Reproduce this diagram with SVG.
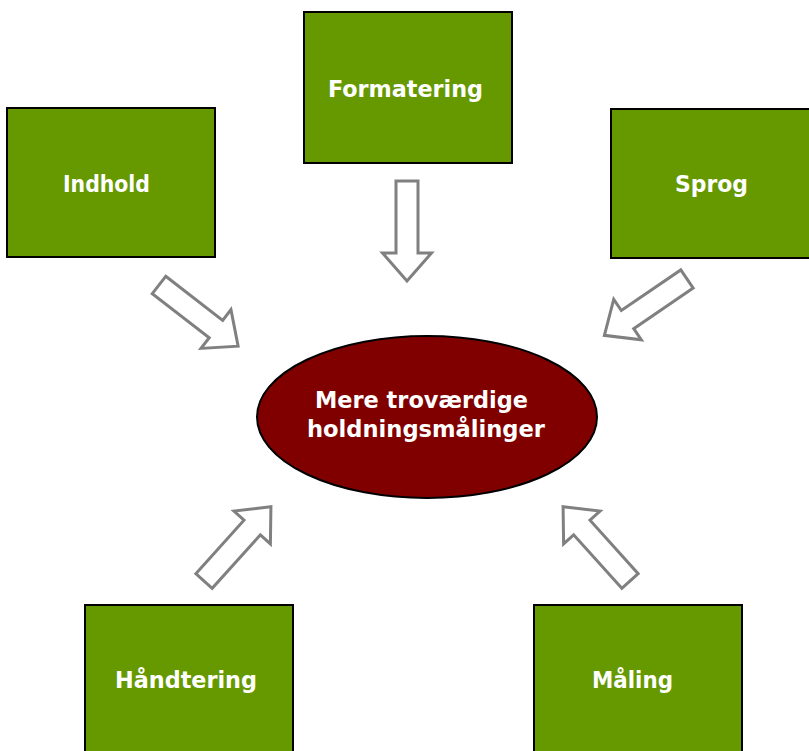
<svg xmlns="http://www.w3.org/2000/svg" width="809" height="751" viewBox="0 0 809 751">
<style>
.box{fill:#669900;stroke:#000;stroke-width:2}
.lbl{fill:#fff;font-family:"DejaVu Sans","Verdana",sans-serif;font-weight:bold;font-size:23px;text-anchor:middle}
.arr{fill:#fff;stroke:#808080;stroke-width:3;stroke-linejoin:miter}
</style>
<defs>
<path id="arrow" class="arr" d="M0,-11 H72 V-24.5 L100,0 L72,24.5 V11 H0 Z"/>
</defs>
<rect width="809" height="751" fill="#fff"/>
<g id="connectors">
<use href="#arrow" transform="translate(407,181) rotate(90)"/>
<use href="#arrow" transform="translate(159,285) rotate(37.7)"/>
<use href="#arrow" transform="translate(687,279) rotate(145.7)"/>
<use href="#arrow" transform="translate(204,581) rotate(-48)"/>
<use href="#arrow" transform="translate(630,581) rotate(-132)"/>
</g>
<g id="formatering">
<rect class="box" x="304" y="12" width="208" height="151"/>
<text class="lbl" x="405.5" y="97" textLength="155" lengthAdjust="spacingAndGlyphs">Formatering</text>
</g>
<g id="indhold">
<rect class="box" x="7" y="108" width="208" height="149"/>
<text class="lbl" x="106.5" y="192" textLength="87" lengthAdjust="spacingAndGlyphs">Indhold</text>
</g>
<g id="sprog">
<rect class="box" x="611" y="109" width="200" height="149"/>
<text class="lbl" x="711.5" y="192" textLength="73" lengthAdjust="spacingAndGlyphs">Sprog</text>
</g>
<g id="haandtering">
<rect class="box" x="85" y="605" width="208" height="150"/>
<text class="lbl" x="186" y="688" textLength="142" lengthAdjust="spacingAndGlyphs">Håndtering</text>
</g>
<g id="maaling">
<rect class="box" x="534" y="605" width="208" height="150"/>
<text class="lbl" x="632.5" y="688" textLength="81" lengthAdjust="spacingAndGlyphs">Måling</text>
</g>
<g id="center">
<ellipse cx="427" cy="417" rx="170" ry="81" fill="#800000" stroke="#000" stroke-width="2"/>
<text class="lbl" x="421.5" y="408" textLength="213" lengthAdjust="spacingAndGlyphs">Mere troværdige</text>
<text class="lbl" x="426" y="437" textLength="238" lengthAdjust="spacingAndGlyphs">holdningsmålinger</text>
</g>
</svg>
